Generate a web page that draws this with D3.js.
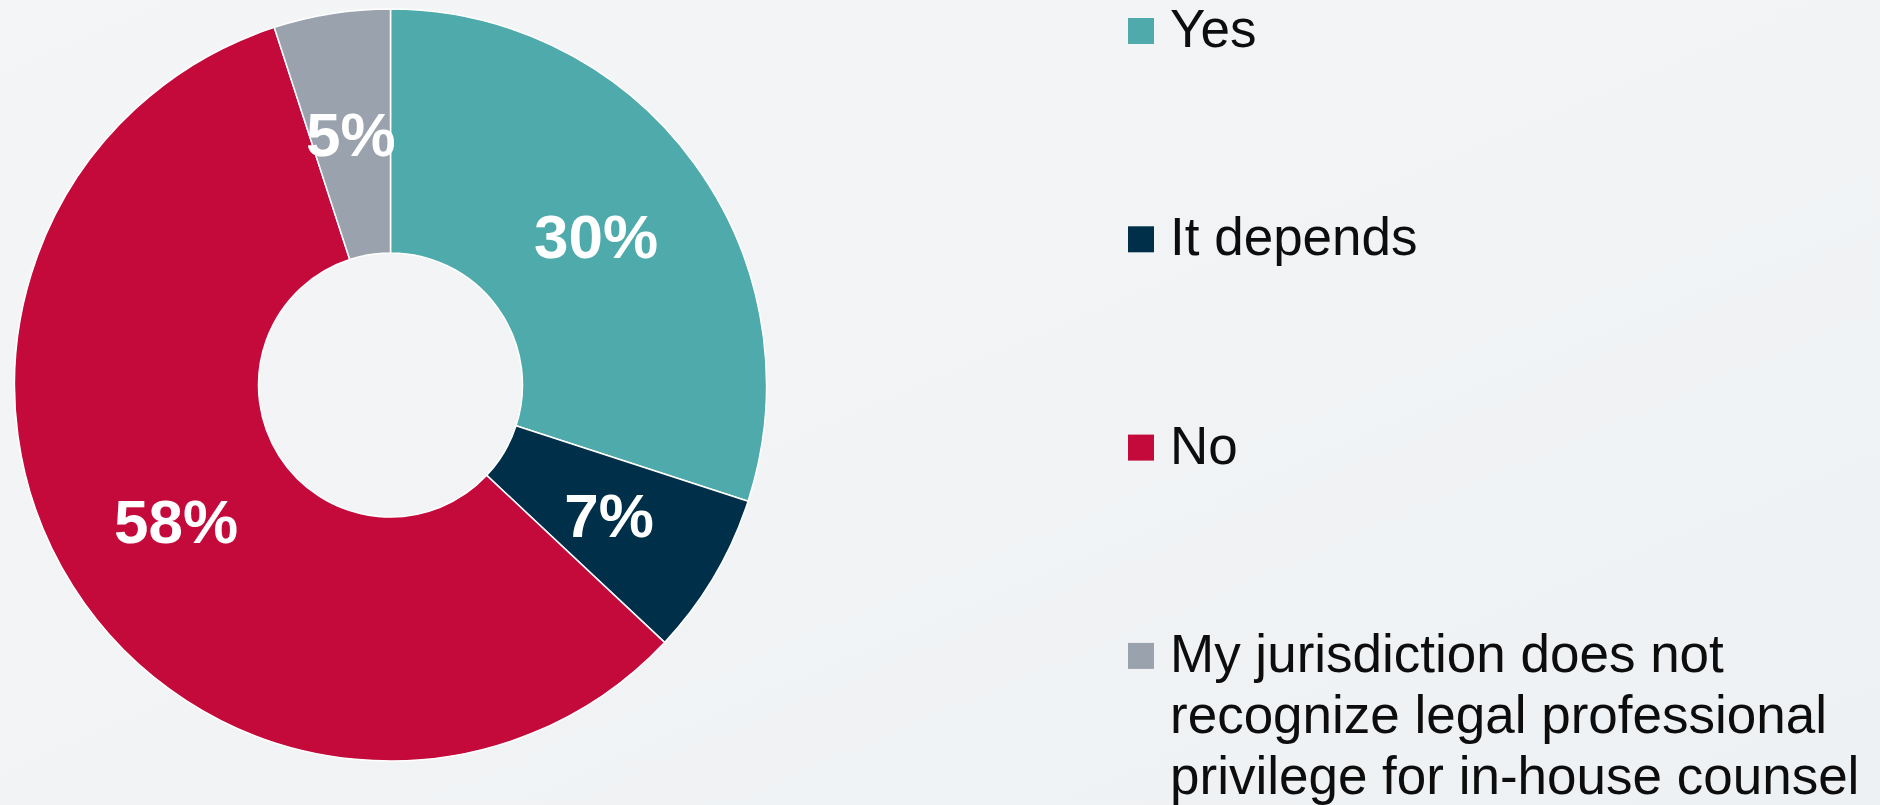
<!DOCTYPE html>
<html>
<head>
<meta charset="utf-8">
<script src="https://cdn.jsdelivr.net/npm/d3@7"></script>
<style>
  html, body { margin: 0; padding: 0; overflow: hidden; }
  body { width: 1880px; height: 805px; }
  svg { display: block; }
</style>
</head>
<body>
<svg id="chart" width="1880" height="805"></svg>
<script>
// Survey answers, in clockwise order starting at 12 o'clock
const categories = [
  "Yes",
  "It depends",
  "No",
  "My jurisdiction does not recognize legal professional privilege for in-house counsel"
];
const shares = [30, 7, 58, 5];
const valueLabels = ["30%", "7%", "58%", "5%"];
const colors = ["#4faaac", "#002f4a", "#c40a3b", "#9aa3ad"];
// Legend text broken into display lines
const legendLines = [
  ["Yes"],
  ["It depends"],
  ["No"],
  ["My jurisdiction does not", "recognize legal professional", "privilege for in-house counsel"]
];

const W = 1880, H = 805;
const svg = d3.select("#chart");

// Soft light backdrop
const defs = svg.append("defs");
const bg = defs.append("linearGradient").attr("id", "bg")
  .attr("x1", "0").attr("y1", "0").attr("x2", "1").attr("y2", "1");
bg.append("stop").attr("offset", "0").attr("stop-color", "#f3f5f7");
bg.append("stop").attr("offset", "0.5").attr("stop-color", "#f1f3f5");
bg.append("stop").attr("offset", "1").attr("stop-color", "#eef1f3");
svg.append("rect").attr("width", W).attr("height", H).attr("fill", "url(#bg)");

// Donut
const cx = 390.5, cy = 385, outerR = 376, innerR = 132;
const pie = d3.pie().sort(null).value(d => d)
  .startAngle(0).endAngle(2 * Math.PI);
const arcs = pie(shares);
const arc = d3.arc().innerRadius(innerR).outerRadius(outerR);

const g = svg.append("g").attr("transform", `translate(${cx},${cy})`);
g.selectAll("path.slice")
  .data(arcs)
  .join("path")
  .attr("class", "slice")
  .attr("d", arc)
  .attr("fill", (d, i) => colors[i])
  .attr("stroke", "#ffffff")
  .attr("stroke-width", 1.5)
  .attr("stroke-linejoin", "round");

// Percent labels at each slice centroid
g.selectAll("text.pct")
  .data(arcs)
  .join("text")
  .attr("class", "pct")
  .attr("x", d => arc.centroid(d)[0])
  .attr("y", d => arc.centroid(d)[1])
  .attr("text-anchor", "middle")
  .attr("dy", "0.36em")
  .attr("font-family", "'Liberation Sans', Arial, sans-serif")
  .attr("font-weight", "bold")
  .attr("font-size", 62)
  .attr("fill", "#ffffff")
  .text((d, i) => valueLabels[i]);

// Legend
const legendX = 1128, textX = 1170, firstBaseline = 47, itemStep = 208.3, lineStep = 61;
const fontSize = 53, swatch = 26;
const legend = svg.append("g");
const items = legend.selectAll("g.item")
  .data(categories)
  .join("g")
  .attr("class", "item")
  .attr("transform", (d, i) => `translate(0,${firstBaseline + i * itemStep})`);

items.append("rect")
  .attr("x", legendX)
  .attr("y", -29)
  .attr("width", swatch)
  .attr("height", swatch)
  .attr("fill", (d, i) => colors[i]);

items.append("text")
  .attr("x", textX)
  .attr("y", 0)
  .attr("font-family", "'Liberation Sans', Arial, sans-serif")
  .attr("font-size", fontSize)
  .attr("fill", "#0d0d0d")
  .each(function (d, i) {
    d3.select(this).selectAll("tspan")
      .data(legendLines[i])
      .join("tspan")
      .attr("x", textX)
      .attr("dy", (t, j) => j === 0 ? 0 : lineStep)
      .text(t => t);
  });
</script>
</body>
</html>
